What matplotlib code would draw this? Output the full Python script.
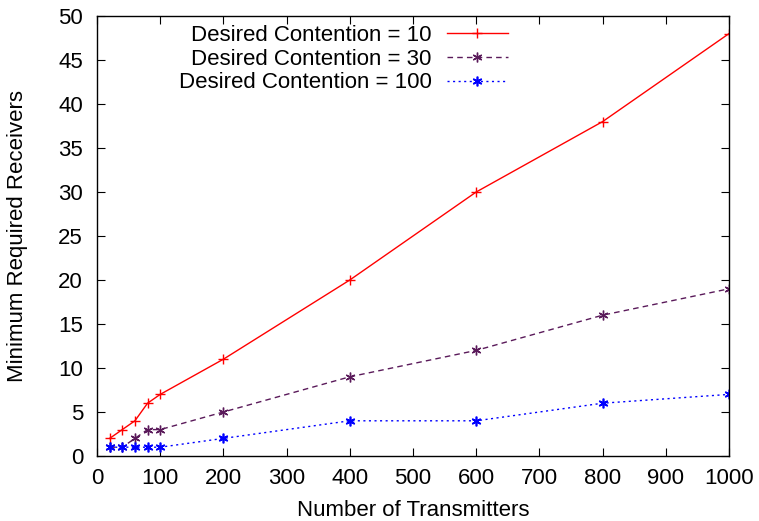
import matplotlib
matplotlib.use('Agg')
import matplotlib.pyplot as plt

# 数据
transmitters = [20, 40, 60, 80, 100, 200, 400, 600, 800, 1000]
contention_10 = [2, 3, 4, 6, 7, 11, 20, 30, 38, 48]
contention_30 = [1, 1, 2, 3, 3, 5, 9, 12, 16, 19]
contention_100 = [1, 1, 1, 1, 1, 2, 4, 4, 6, 7]
x_ticks = list(range(0, 1001, 100))
y_ticks = list(range(0, 51, 5))

plt.rcParams['font.family'] = ['Liberation Sans', 'DejaVu Sans']

fig = plt.figure(figsize=(7.59, 5.21), dpi=100)
ax = fig.add_axes([97 / 759, 1 - 456 / 521, (729 - 97) / 759, (456 - 16) / 521])

ax.plot(transmitters, contention_10, color='#ff0000', lw=1, marker='+', ms=7, mew=1,
        label='Desired Contention = 10')
ax.plot(transmitters, contention_30, color='#5a1a5a', lw=1, ls=(0, (4, 3)), marker=(6, 2, 0),
        ms=7, mew=1, label='Desired Contention = 30')
ax.plot(transmitters, contention_100, color='#0000ff', lw=1, ls=(0, (1.5, 2.5)), marker=(6, 2, 0),
        ms=7, mew=1.2, label='Desired Contention = 100')

ax.set_xlim(0, 1000)
ax.set_ylim(0, 50)
ax.set_xticks(x_ticks)
ax.set_yticks(y_ticks)
ax.tick_params(direction='in', top=True, right=True, labelsize=16, length=6)
ax.tick_params(axis='x', pad=8.5)
ax.tick_params(axis='y', pad=10)
for s in ax.spines.values():
    s.set_linewidth(1)

ax.set_xlabel('Number of Transmitters', fontsize=16, labelpad=8)
ax.set_ylabel('Minimum Required Receivers', fontsize=16, labelpad=22)

leg = ax.legend(loc='upper right', bbox_to_anchor=((508 - 97) / 632, 1 - 9 / 440), frameon=False,
                fontsize=16, markerfirst=False, handlelength=2.75, labelspacing=0.12,
                handletextpad=0.68, borderaxespad=0, borderpad=0)
for t in leg.get_texts():
    t.set_ha('right')
leg._legend_box.align = 'right'

fig.savefig('out.png', dpi=100)
